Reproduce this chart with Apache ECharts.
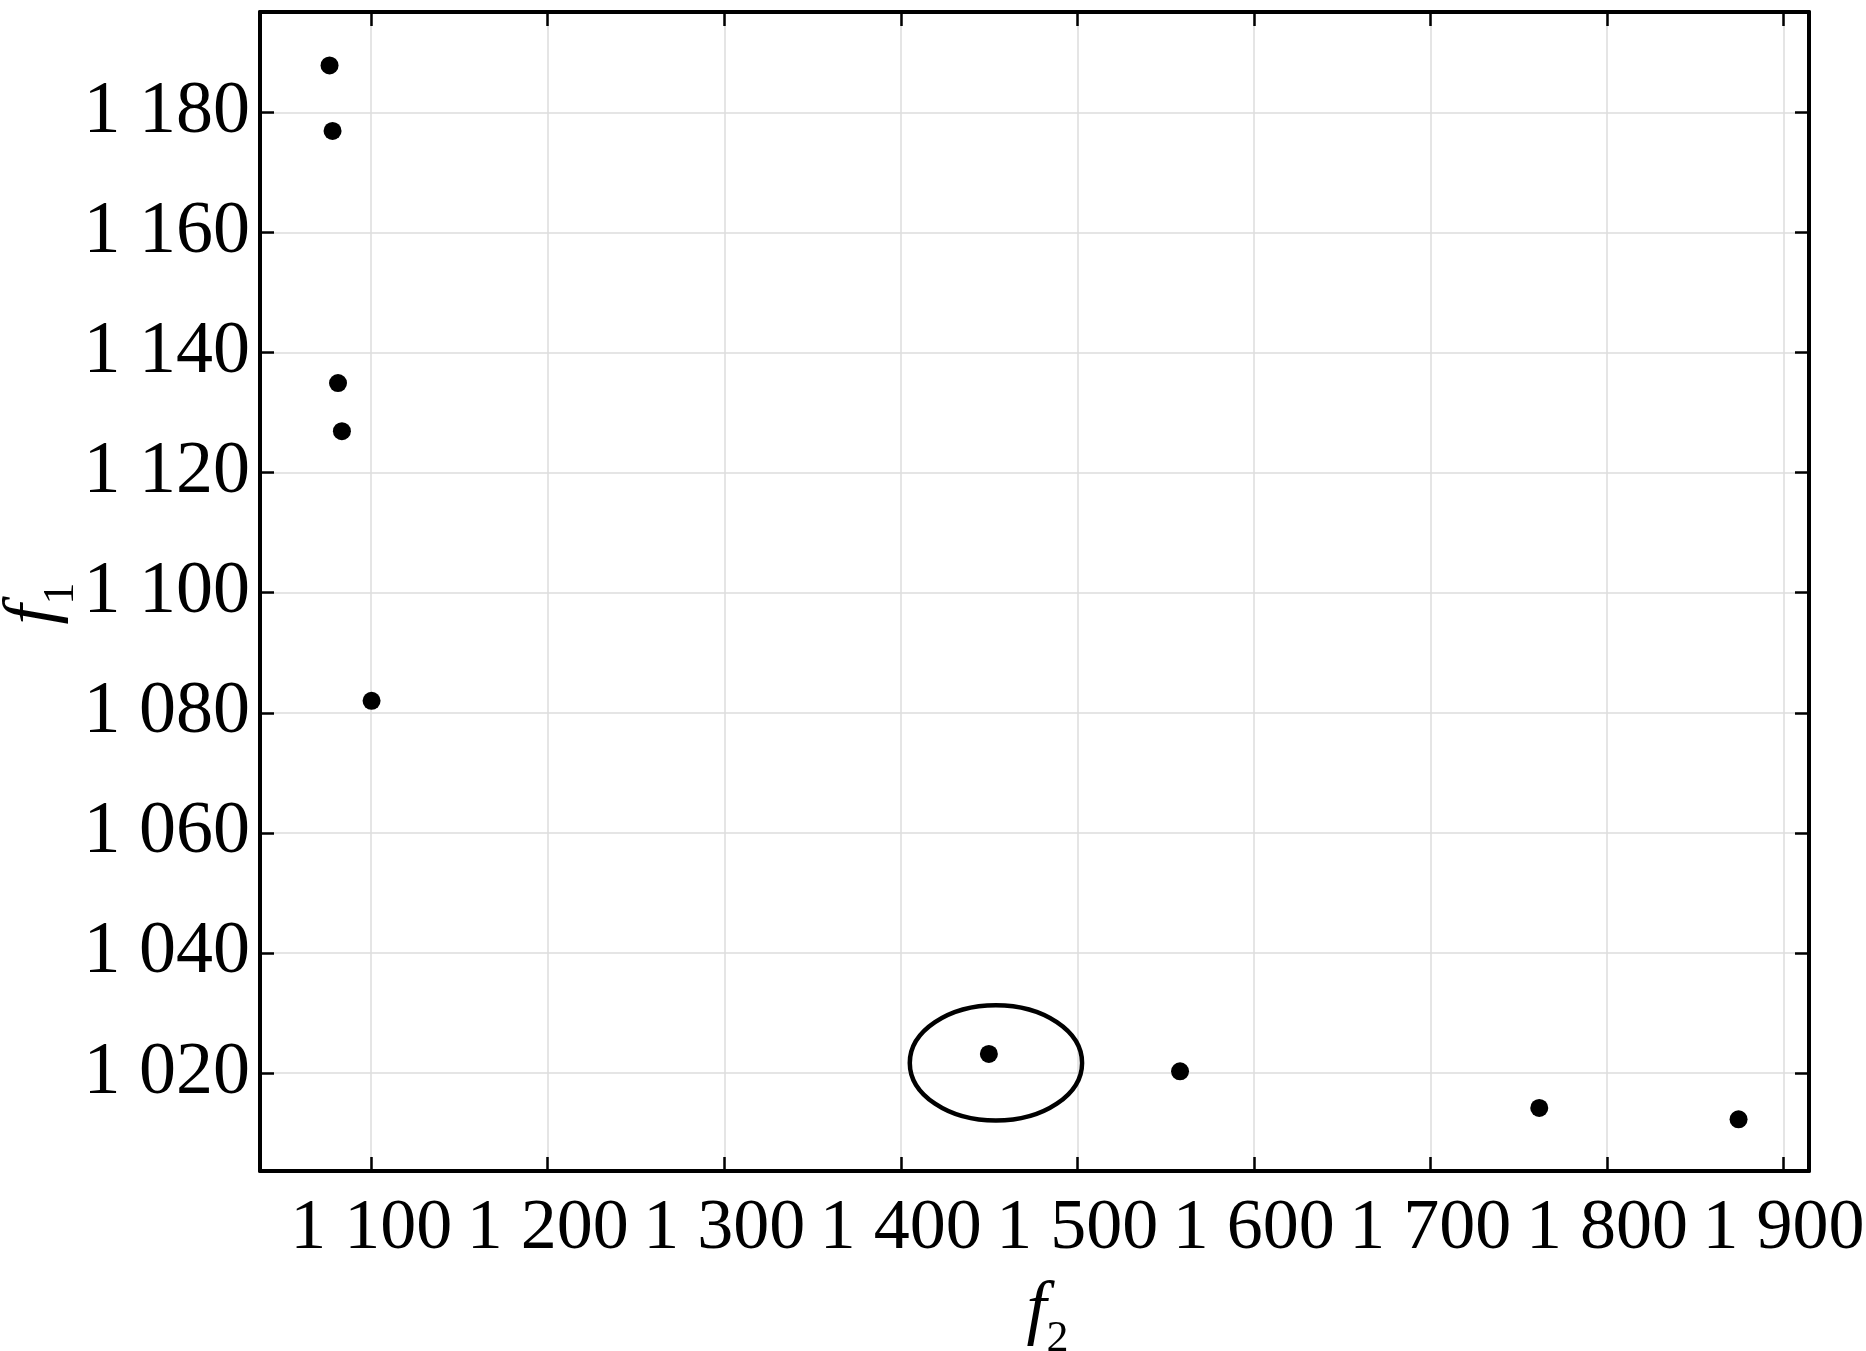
<!DOCTYPE html>
<html>
<head>
<meta charset="utf-8">
<script src="https://cdn.jsdelivr.net/npm/echarts@6/dist/echarts.min.js"></script>
<style>html,body{margin:0;padding:0;background:#fff}#c{width:1866px;height:1351px}</style>
</head>
<body>
<div id="c"></div>
<script>
// Data
const f2Values = [1076.4, 1078.1, 1081.2, 1083.4, 1100.2, 1449.9, 1558.2, 1761.7, 1874.6];
const f1Values = [1187.8, 1176.9, 1134.9, 1126.9, 1082.0, 1023.2, 1020.3, 1014.2, 1012.3];
// Highlight ellipse: centre (f2, f1) and radii (f2, f1) in data units
const ellipseCenter = [1453.9, 1021.7];
const ellipseRadii = [48.8, 9.6];
const xRange = [1037, 1914.5];
const yRange = [1003.7, 1196.7];

const FONT = "'Liberation Serif', 'Times New Roman', serif";
const points = f2Values.map((x, i) => [x, f1Values[i]]);

function fmt(v) {
  const s = String(Math.round(v));
  return s.length === 4 ? s[0] + ' ' + s.slice(1) : s;
}

const gridLine = { show: true, lineStyle: { color: '#dcdcdc', width: 1.5 } };
const tickStyle = { show: true, inside: true, length: 14, lineStyle: { color: '#000', width: 2.5 } };
const lineStyle = { show: true, onZero: false, lineStyle: { color: '#000', width: 4 } };
const nameRich = {
  i: { fontFamily: FONT, fontStyle: 'italic', fontSize: 72, color: '#000', lineHeight: 80, verticalAlign: 'bottom' },
  s: { fontFamily: FONT, fontSize: 44, color: '#000', lineHeight: 80, verticalAlign: 'bottom', padding: [0, 0, -13, 0] }
};

const chart = echarts.init(document.getElementById('c'), null, { renderer: 'canvas' });
chart.setOption({
  backgroundColor: '#fff',
  animation: false,
  grid: { left: 260, right: 57, top: 12, bottom: 180, containLabel: false, outerBoundsMode: 'none' },
  xAxis: [
    {
      type: 'value', min: xRange[0], max: xRange[1], splitNumber: 9, position: 'bottom',
      axisLine: lineStyle, axisTick: tickStyle, splitLine: gridLine,
      axisLabel: { show: true, showMinLabel: false, showMaxLabel: false, margin: 22, fontSize: 72, color: '#000', fontFamily: FONT, formatter: fmt },
      name: '{i|f}{s|2}', nameLocation: 'middle', nameGap: 97, nameMoveOverlap: false,
      nameTextStyle: { fontFamily: FONT, color: '#000', rich: nameRich, padding: [0, 0, 0, 26] }
    },
    {
      type: 'value', min: xRange[0], max: xRange[1], splitNumber: 9, position: 'top',
      axisLine: lineStyle, axisTick: tickStyle, splitLine: { show: false }, axisLabel: { show: false }
    }
  ],
  yAxis: [
    {
      type: 'value', min: yRange[0], max: yRange[1], splitNumber: 10, position: 'left',
      axisLine: lineStyle, axisTick: tickStyle, splitLine: gridLine,
      axisLabel: { show: true, showMinLabel: false, showMaxLabel: false, margin: 10, fontSize: 74, color: '#000', fontFamily: FONT, formatter: fmt },
      name: '{i|f}{s|1}', nameLocation: 'middle', nameGap: 190, nameRotate: 90, nameMoveOverlap: false,
      nameTextStyle: { fontFamily: FONT, color: '#000', rich: nameRich, padding: [0, 24, 0, 0] }
    },
    {
      type: 'value', min: yRange[0], max: yRange[1], splitNumber: 10, position: 'right',
      axisLine: lineStyle, axisTick: tickStyle, splitLine: { show: false }, axisLabel: { show: false }
    }
  ],
  series: [
    {
      type: 'scatter', xAxisIndex: 0, yAxisIndex: 0,
      data: points, symbol: 'circle', symbolSize: 18,
      itemStyle: { color: '#000', opacity: 1 }, z: 5
    },
    {
      type: 'custom', xAxisIndex: 0, yAxisIndex: 0,
      data: [[ellipseCenter[0], ellipseCenter[1], ellipseRadii[0], ellipseRadii[1]]],
      renderItem: function (params, api) {
        const c = api.coord([api.value(0), api.value(1)]);
        const sz = api.size([api.value(2), api.value(3)]);
        return {
          type: 'ellipse',
          shape: { cx: c[0], cy: c[1], rx: sz[0], ry: sz[1] },
          style: { fill: 'none', stroke: '#000', lineWidth: 4.5 }
        };
      },
      z: 4
    }
  ]
});
</script>
</body>
</html>
